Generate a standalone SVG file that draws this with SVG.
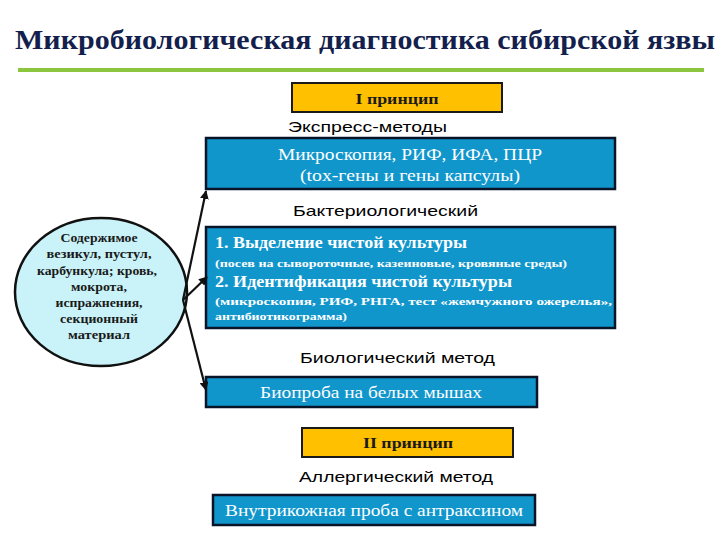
<svg xmlns="http://www.w3.org/2000/svg" width="720" height="540" viewBox="0 0 720 540">
<style>
.title{font-family:"Liberation Serif","DejaVu Serif","Times New Roman",serif;font-weight:bold;font-size:28px;fill:#141f4d}
.lbl{font-family:"Liberation Sans",Arial,sans-serif;font-size:15px;fill:#000}
.prin{fill:#ffc000;stroke:#1a1a1a;stroke-width:2}
.ptxt{font-family:"Liberation Serif","DejaVu Serif",serif;font-weight:bold;font-size:15px;fill:#1a1a1a;text-anchor:middle}
.blue{fill:#1196cc;stroke:#0a1428;stroke-width:2.5}
.wt{font-family:"Liberation Serif","DejaVu Serif",serif;font-size:16px;fill:#fff}
.wb{font-family:"Liberation Serif","DejaVu Serif",serif;font-weight:bold;font-size:16px;fill:#fff}
.ws{font-family:"Liberation Serif","DejaVu Serif",serif;font-weight:bold;font-size:11px;fill:#fff}
.ct{font-family:"Liberation Serif","DejaVu Serif",serif;font-weight:bold;font-size:12.5px;fill:#1a1a1a;text-anchor:middle}
.conn{stroke:#111;stroke-width:2.2;fill:none;marker-end:url(#ah)}
</style>
<defs>
<marker id="ah" viewBox="0 0 10 10" refX="9" refY="5" markerWidth="4" markerHeight="4" orient="auto" markerUnits="strokeWidth">
<path d="M0,0 L10,5 L0,10 z" fill="#111"/>
</marker>
</defs>
<rect width="720" height="540" fill="#fff"/>
<g id="title">
<text class="title" x="15" y="49" textLength="700" lengthAdjust="spacingAndGlyphs">Микробиологическая диагностика сибирской язвы</text>
<rect x="18" y="68" width="686" height="4" fill="#8cc63f"/>
</g>
<g id="principle1">
<rect class="prin" x="292" y="83" width="210" height="29"/>
<text class="ptxt" x="397" y="104" textLength="83" lengthAdjust="spacingAndGlyphs">I принцип</text>
</g>
<text class="lbl" x="288" y="132" textLength="159" lengthAdjust="spacingAndGlyphs">Экспресс-методы</text>
<g id="express">
<rect class="blue" x="206" y="138" width="409" height="51"/>
<text class="wt" x="278" y="160" textLength="264" lengthAdjust="spacingAndGlyphs">Микроскопия, РИФ, ИФА, ПЦР</text>
<text class="wt" x="300" y="181" textLength="220" lengthAdjust="spacingAndGlyphs">(tox-гены и гены капсулы)</text>
</g>
<text class="lbl" x="293" y="216" textLength="185" lengthAdjust="spacingAndGlyphs">Бактериологический</text>
<g id="bacterio">
<rect class="blue" x="206" y="227" width="409" height="101"/>
<text class="wb" x="215" y="248" textLength="252" lengthAdjust="spacingAndGlyphs">1. Выделение чистой культуры</text>
<text class="ws" x="215" y="267" textLength="352" lengthAdjust="spacingAndGlyphs">(посев на сывороточные, казеиновые, кровяные среды)</text>
<text class="wb" x="215" y="287" textLength="297" lengthAdjust="spacingAndGlyphs">2. Идентификация чистой культуры</text>
<text class="ws" x="215" y="305" textLength="397" lengthAdjust="spacingAndGlyphs">(микроскопия, РИФ, РНГА, тест «жемчужного ожерелья»,</text>
<text class="ws" x="215" y="320" textLength="132" lengthAdjust="spacingAndGlyphs">антибиотикограмма)</text>
</g>
<text class="lbl" x="300" y="363" textLength="195" lengthAdjust="spacingAndGlyphs">Биологический метод</text>
<g id="bio">
<rect class="blue" x="206" y="377" width="331" height="30"/>
<text class="wt" x="260" y="398" textLength="222" lengthAdjust="spacingAndGlyphs">Биопроба на белых мышах</text>
</g>
<g id="principle2">
<rect class="prin" x="302" y="428" width="211" height="29"/>
<text class="ptxt" x="408" y="448" textLength="90" lengthAdjust="spacingAndGlyphs">II принцип</text>
</g>
<text class="lbl" x="299" y="482" textLength="194" lengthAdjust="spacingAndGlyphs">Аллергический метод</text>
<g id="allergy">
<rect class="blue" x="213" y="495" width="322" height="30"/>
<text class="wt" x="225" y="516" textLength="298" lengthAdjust="spacingAndGlyphs">Внутрикожная проба с антраксином</text>
</g>
<g id="material">
<ellipse cx="101" cy="292" rx="86" ry="74" fill="#c9f3f8" stroke="#111" stroke-width="2.5"/>
<text class="ct" x="99" y="242" textLength="77" lengthAdjust="spacingAndGlyphs">Содержимое</text>
<text class="ct" x="99" y="258" textLength="105" lengthAdjust="spacingAndGlyphs">везикул, пустул,</text>
<text class="ct" x="97" y="275" textLength="120" lengthAdjust="spacingAndGlyphs">карбункула; кровь,</text>
<text class="ct" x="99" y="291" textLength="56" lengthAdjust="spacingAndGlyphs">мокрота,</text>
<text class="ct" x="99" y="307" textLength="87" lengthAdjust="spacingAndGlyphs">испражнения,</text>
<text class="ct" x="99" y="323" textLength="78" lengthAdjust="spacingAndGlyphs">секционный</text>
<text class="ct" x="99" y="339" textLength="62" lengthAdjust="spacingAndGlyphs">материал</text>
</g>
<g id="connectors">
<line class="conn" x1="183" y1="300" x2="206" y2="191"/>
<line class="conn" x1="183" y1="300" x2="207" y2="277"/>
<line class="conn" x1="183" y1="300" x2="206" y2="390"/>
</g>
</svg>
